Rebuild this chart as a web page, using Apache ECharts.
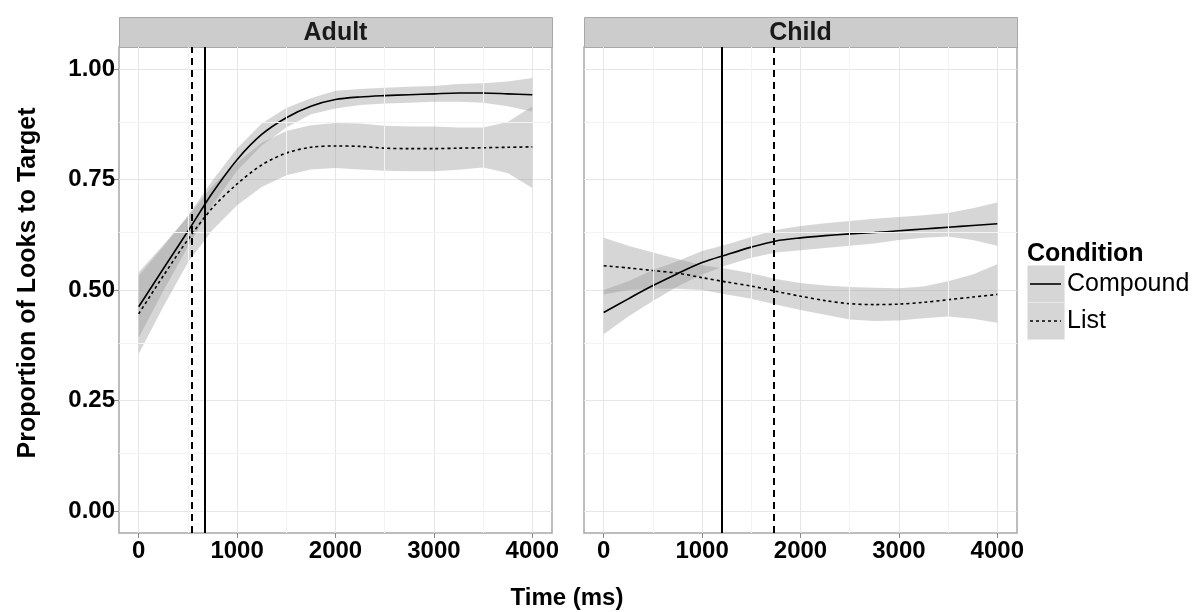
<!DOCTYPE html>
<html>
<head>
<meta charset="utf-8">
<script src="https://cdn.jsdelivr.net/npm/echarts@6/dist/echarts.min.js"></script>
<style>
  html, body { margin: 0; padding: 0; background: #fff; }
  #chart { width: 1200px; height: 612px; }
</style>
</head>
<body>
<div id="chart"></div>
<script>
  // facets and conditions
  var facets = ['Adult', 'Child'];
  var conditions = ['Compound', 'List'];

  // sample times (ms)
  var times = [0, 250, 500, 750, 1000, 1250, 1500, 1750, 2000, 2250, 2500, 2750, 3000, 3250, 3500, 3750, 4000];

  // Adult
  var adultCompound   = [0.462, 0.548, 0.633, 0.720, 0.795, 0.852, 0.890, 0.916, 0.931, 0.937, 0.940, 0.942, 0.944, 0.946, 0.946, 0.944, 0.942];
  var adultCompoundHi = [0.532, 0.598, 0.668, 0.748, 0.820, 0.877, 0.912, 0.934, 0.951, 0.955, 0.958, 0.960, 0.962, 0.966, 0.968, 0.972, 0.980];
  var adultCompoundLo = [0.392, 0.498, 0.598, 0.692, 0.770, 0.827, 0.868, 0.898, 0.911, 0.919, 0.922, 0.924, 0.926, 0.926, 0.924, 0.916, 0.904];
  var adultList       = [0.446, 0.532, 0.614, 0.686, 0.740, 0.783, 0.810, 0.823, 0.826, 0.825, 0.821, 0.820, 0.820, 0.821, 0.822, 0.823, 0.824];
  var adultListHi     = [0.540, 0.602, 0.666, 0.736, 0.788, 0.833, 0.860, 0.873, 0.878, 0.877, 0.872, 0.870, 0.870, 0.868, 0.868, 0.880, 0.916];
  var adultListLo     = [0.355, 0.462, 0.562, 0.636, 0.692, 0.733, 0.760, 0.773, 0.776, 0.773, 0.770, 0.769, 0.769, 0.772, 0.777, 0.765, 0.731];

  // Child
  var childCompound   = [0.449, 0.480, 0.510, 0.537, 0.562, 0.580, 0.597, 0.611, 0.618, 0.623, 0.627, 0.630, 0.634, 0.638, 0.642, 0.646, 0.650];
  var childCompoundHi = [0.500, 0.520, 0.545, 0.565, 0.588, 0.603, 0.620, 0.636, 0.645, 0.651, 0.656, 0.661, 0.665, 0.669, 0.674, 0.685, 0.698];
  var childCompoundLo = [0.400, 0.440, 0.475, 0.508, 0.535, 0.556, 0.573, 0.585, 0.590, 0.595, 0.600, 0.605, 0.613, 0.618, 0.621, 0.613, 0.600];
  var childList       = [0.555, 0.550, 0.544, 0.538, 0.528, 0.518, 0.509, 0.497, 0.486, 0.476, 0.469, 0.467, 0.468, 0.472, 0.478, 0.484, 0.490];
  var childListHi     = [0.618, 0.600, 0.585, 0.570, 0.556, 0.548, 0.538, 0.525, 0.516, 0.510, 0.507, 0.505, 0.504, 0.508, 0.520, 0.535, 0.558];
  var childListLo     = [0.490, 0.500, 0.503, 0.503, 0.500, 0.490, 0.480, 0.467, 0.455, 0.444, 0.433, 0.430, 0.431, 0.436, 0.440, 0.435, 0.426];

  // vertical reference lines (ms): [Compound, List]
  var adultVlines = [675, 540];
  var childVlines = [1200, 1725];

  // axis ticks
  var xTicks = [0, 1000, 2000, 3000, 4000];
  var xMinor = [500, 1500, 2500, 3500];
  var yTicks = [0, 0.25, 0.5, 0.75, 1];
  var yMinor = [0.125, 0.375, 0.625, 0.875];

  var FONT = '"Liberation Sans", Arial, sans-serif';
  var ribbonFill = 'rgba(153,153,153,0.4)';
  var lineTypes = ['solid', [3, 3]];

  function pairs(xs, ys) {
    return xs.map(function (x, i) { return [x, ys[i]]; });
  }
  function bandData(lo, hi) {
    return times.map(function (t, i) { return [t, lo[i], hi[i]]; });
  }

  function ribbon(gi, lo, hi) {
    return {
      type: 'custom',
      xAxisIndex: gi,
      yAxisIndex: gi,
      clip: true,
      silent: true,
      z: 2,
      data: bandData(lo, hi),
      renderItem: function (params, api) {
        if (params.dataIndexInside !== 0) return;
        var n = params.dataInsideLength;
        var pts = [];
        for (var i = 0; i < n; i++) pts.push(api.coord([api.value(0, i), api.value(2, i)]));
        for (var j = n - 1; j >= 0; j--) pts.push(api.coord([api.value(0, j), api.value(1, j)]));
        return { type: 'polygon', shape: { points: pts }, style: { fill: ribbonFill } };
      }
    };
  }

  function meanLine(gi, vals, k) {
    return {
      type: 'line',
      name: conditions[k],
      xAxisIndex: gi,
      yAxisIndex: gi,
      data: pairs(times, vals),
      smooth: 0.3,
      showSymbol: false,
      silent: true,
      z: 3,
      lineStyle: { color: '#000', width: 1.6, type: lineTypes[k] }
    };
  }

  function helpers(gi, vlines) {
    var minor = xMinor.map(function (v) { return { xAxis: v }; })
      .concat(yMinor.map(function (v) { return { yAxis: v }; }));
    return [{
      type: 'line',
      xAxisIndex: gi,
      yAxisIndex: gi,
      data: [],
      silent: true,
      z: 1,
      markLine: {
        symbol: 'none',
        silent: true,
        animation: false,
        label: { show: false },
        lineStyle: { color: '#f3f3f3', width: 1, type: 'solid' },
        data: minor
      }
    }, {
      type: 'line',
      xAxisIndex: gi,
      yAxisIndex: gi,
      data: [],
      silent: true,
      z: 4,
      markLine: {
        symbol: 'none',
        silent: true,
        animation: false,
        label: { show: false },
        data: vlines.map(function (v, k) {
          return {
            xAxis: v,
            lineStyle: { color: '#000', width: 2, type: k === 0 ? 'solid' : [7, 5] }
          };
        })
      }
    }];
  }

  function xAxis(gi) {
    return {
      type: 'value',
      gridIndex: gi,
      min: -200,
      max: 4200,
      axisLine: { show: false, onZero: false },
      axisTick: { show: true, customValues: xTicks, length: 5, lineStyle: { color: '#888' } },
      axisLabel: {
        customValues: xTicks,
        color: '#000', fontSize: 24, fontWeight: 'bold', fontFamily: FONT, margin: 6,
        formatter: function (v) { return String(v); }
      },
      splitLine: { show: true, lineStyle: { color: '#e6e6e6', width: 1 } }
    };
  }

  function yAxis(gi) {
    return {
      type: 'value',
      gridIndex: gi,
      min: -0.05,
      max: 1.05,
      axisLine: { show: false, onZero: false },
      axisTick: { show: gi === 0, customValues: yTicks, length: 5, lineStyle: { color: '#888' } },
      axisLabel: {
        show: gi === 0,
        customValues: yTicks,
        color: '#000', fontSize: 24, fontWeight: 'bold', fontFamily: FONT, margin: 4,
        formatter: function (v) { return v.toFixed(2); }
      },
      splitLine: { show: true, lineStyle: { color: '#e6e6e6', width: 1 } }
    };
  }

  var gridBoxes = [
    { left: 119, top: 47, width: 433, height: 486 },
    { left: 584, top: 47, width: 433, height: 486 }
  ];

  var graphics = [];
  gridBoxes.forEach(function (g, i) {
    graphics.push({
      type: 'rect', left: g.left, top: 17,
      shape: { width: g.width, height: 30 },
      style: { fill: '#cccccc', stroke: '#a8a8a8', lineWidth: 1 }
    });
    graphics.push({
      type: 'text', x: g.left + g.width / 2, y: 33,
      style: {
        text: facets[i], fill: '#1a1a1a', font: 'bold 25px ' + FONT,
        textAlign: 'center', textVerticalAlign: 'middle'
      }
    });
  });

  // axis titles
  graphics.push({
    type: 'text', x: 567, y: 598,
    style: { text: 'Time (ms)', fill: '#000', font: 'bold 24px ' + FONT, textAlign: 'center', textVerticalAlign: 'middle' }
  });
  graphics.push({
    type: 'text', x: 28, y: 283, rotation: Math.PI / 2,
    style: { text: 'Proportion of Looks to Target', fill: '#000', font: 'bold 25px ' + FONT, textAlign: 'center', textVerticalAlign: 'middle' }
  });

  // legend
  graphics.push({
    type: 'text', x: 1027, y: 254,
    style: { text: 'Condition', fill: '#000', font: 'bold 25px ' + FONT, textAlign: 'left', textVerticalAlign: 'middle' }
  });
  conditions.forEach(function (c, k) {
    var top = 265 + k * 37;
    graphics.push({
      type: 'rect', left: 1027, top: top,
      shape: { width: 37, height: 37 },
      style: { fill: '#d6d6d6', stroke: '#e8e8e8', lineWidth: 1 }
    });
    graphics.push({
      type: 'line',
      shape: { x1: 1030, y1: top + 19, x2: 1061, y2: top + 19 },
      style: { stroke: '#000', lineWidth: 1.6, lineDash: k === 0 ? null : [3, 3] }
    });
    graphics.push({
      type: 'text', x: 1067, y: top + 19,
      style: { text: c, fill: '#000', font: '25px ' + FONT, textAlign: 'left', textVerticalAlign: 'middle' }
    });
  });

  var series = []
    .concat(helpers(0, adultVlines))
    .concat(helpers(1, childVlines))
    .concat([
      ribbon(0, adultCompoundLo, adultCompoundHi),
      ribbon(0, adultListLo, adultListHi),
      ribbon(1, childCompoundLo, childCompoundHi),
      ribbon(1, childListLo, childListHi),
      meanLine(0, adultCompound, 0),
      meanLine(0, adultList, 1),
      meanLine(1, childCompound, 0),
      meanLine(1, childList, 1)
    ]);

  var myChart = echarts.init(document.getElementById('chart'));
  myChart.setOption({
    backgroundColor: '#fff',
    animation: false,
    grid: gridBoxes.map(function (g) {
      return {
        left: g.left, top: g.top, width: g.width, height: g.height,
        show: true, backgroundColor: '#fff', borderColor: '#a8a8a8', borderWidth: 1.5
      };
    }),
    xAxis: [xAxis(0), xAxis(1)],
    yAxis: [yAxis(0), yAxis(1)],
    series: series,
    graphic: graphics
  });
</script>
</body>
</html>
